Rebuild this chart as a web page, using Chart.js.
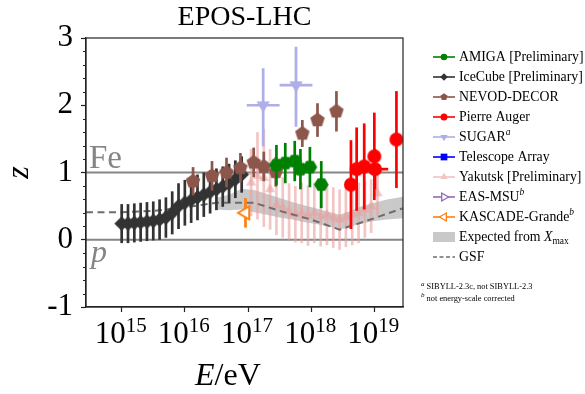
<!DOCTYPE html>
<html><head><meta charset="utf-8">
<script src="https://cdn.jsdelivr.net/npm/chart.js@4.4.0/dist/chart.umd.min.js"></script>
<style>html,body{margin:0;padding:0;background:#fff;}#wrap{width:585px;height:394px;}</style>
</head><body><div id="wrap"><canvas id="c" width="585" height="394" style="width:585px;height:394px"></canvas></div>
<script>
const FONT = "'Liberation Serif','DejaVu Serif','Times New Roman',serif";

// ---------- axes (x = log10(E/eV)) ----------
const xMin = 14.435, xMax = 19.454;
const yMin = -1, yMax = 3;
const xTickVals = [15, 16, 17, 18, 19];
const yTickVals = [-1, 0, 1, 2, 3];
const titleText = 'EPOS-LHC';

// ---------- data ----------
const amigaLogE = [17.45, 17.59, 17.74, 17.83, 17.98, 18.16];
const amigaZ    = [1.11, 1.14, 1.17, 1.05, 1.08, 0.82];
const amigaErr  = [0.30, 0.30, 0.30, 0.30, 0.30, 0.35];

const iceLogE = [15.0,15.1,15.2,15.3,15.4,15.5,15.6,15.7,15.8,15.9,16.0,16.1,16.2,16.3,16.4,16.5,16.6,16.7,16.8,16.9];
const iceZ    = [0.24,0.24,0.25,0.26,0.27,0.28,0.30,0.33,0.40,0.50,0.55,0.59,0.63,0.67,0.71,0.75,0.79,0.84,0.90,0.97];
const iceErr  = [0.29,0.29,0.29,0.29,0.29,0.29,0.30,0.30,0.32,0.34,0.34,0.34,0.34,0.33,0.32,0.31,0.30,0.29,0.28,0.27];

const nevodLogE = [16.13, 16.43, 16.66, 16.88, 17.09, 17.25, 17.44, 17.86, 18.10, 18.40];
const nevodZ    = [0.87, 0.95, 1.00, 1.07, 1.15, 1.09, 1.01, 1.58, 1.78, 1.91];
const nevodErr  = [0.21, 0.22, 0.22, 0.22, 0.22, 0.22, 0.22, 0.20, 0.25, 0.30];

const augerLogE  = [18.63, 18.72, 18.84, 19.00, 19.01, 19.35];
const augerZ     = [0.82, 1.05, 1.09, 1.24, 1.05, 1.49];
const augerErr   = [0.66, 0.62, 0.64, 0.65, 0.30, 0.72];
const augerXLo   = [0, 0, 0, 0, 0.11, 0];
const augerXHi   = [0, 0, 0, 0, 0.21, 0];

const sugarLogE = [17.24, 17.76];
const sugarZ    = [2.00, 2.30];
const sugarErrHi = [0.55, 0.57];
const sugarErrLo = [0.61, 0.62];
const sugarXErr  = [0.26, 0.26];

const taLogE = [];
const taZ    = [];

const yakLogE = [17.05,17.15,17.25,17.35,17.45,17.55,17.65,17.75,17.85,17.95,18.05,18.15,18.25,18.35,18.45,18.55,18.65,18.75,18.85,18.95,19.05];
const yakZ    = [0.85,0.95,0.92,0.75,0.52,0.48,0.42,0.38,0.40,0.36,0.40,0.35,0.37,0.33,0.30,0.34,0.37,0.40,0.45,0.50,0.69];
const yakErr  = [0.50,0.65,0.73,0.60,0.45,0.45,0.42,0.42,0.45,0.45,0.45,0.45,0.45,0.45,0.45,0.45,0.45,0.45,0.42,0.40,0.35];

const easLogE = [];
const easZ    = [];

const kgLogE = [16.96];
const kgZ    = [0.40];
const kgErr  = [0.22];

const xmaxLogE  = [16.48, 16.70, 16.90, 17.10, 17.30, 17.50, 17.70, 17.90, 18.10, 18.30, 18.45, 18.60, 18.80, 19.00, 19.20, 19.454];
const xmaxUpper = [0.62, 0.67, 0.76, 0.74, 0.68, 0.62, 0.56, 0.51, 0.46, 0.41, 0.37, 0.42, 0.50, 0.55, 0.60, 0.64];
const xmaxLower = [0.45, 0.44, 0.45, 0.41, 0.37, 0.33, 0.30, 0.26, 0.23, 0.19, 0.15, 0.19, 0.24, 0.28, 0.30, 0.32];

const gsfLogE = [14.435, 15.0, 15.5, 16.0, 16.5, 17.1, 17.5, 18.0, 18.45, 19.0, 19.454];
const gsfZ    = [0.41, 0.41, 0.43, 0.48, 0.55, 0.55, 0.43, 0.30, 0.15, 0.32, 0.47];

const seriesNames = ['AMIGA [Preliminary]', 'IceCube [Preliminary]', 'NEVOD-DECOR', 'Pierre Auger', 'SUGAR',
  'Telescope Array', 'Yakutsk [Preliminary]', 'EAS-MSU', 'KASCADE-Grande', 'Expected from X', 'GSF'];
const footnotes = ['SIBYLL-2.3c, not SIBYLL-2.3', 'not energy-scale corrected'];

// ---------- colours ----------
const C = {
  amiga: '#008000', ice: '#333333', nevod: '#8c564b', auger: '#ff0000', sugar: '#aeaee8',
  ta: '#0000ff', yak: 'rgba(235,160,160,0.6)', yakLeg: '#f2c4c4', eas: '#9467bd', kg: '#ff7f0e',
  band: '#c9c9c9', gsf: '#6e6e6e', ref: '#858585'
};

// ---------- marker factory ----------
function pathShape(g, shape, cx, cy, r) {
  g.beginPath();
  const poly = (n, rot) => {
    for (let i = 0; i < n; i++) {
      const a = rot + i * 2 * Math.PI / n;
      const px = cx + r * Math.cos(a), py = cy + r * Math.sin(a);
      if (i) g.lineTo(px, py); else g.moveTo(px, py);
    }
    g.closePath();
  };
  switch (shape) {
    case 'circle': g.arc(cx, cy, r, 0, 2 * Math.PI); break;
    case 'diamond': g.moveTo(cx, cy - r); g.lineTo(cx + r, cy); g.lineTo(cx, cy + r); g.lineTo(cx - r, cy); g.closePath(); break;
    case 'pentagon': poly(5, -Math.PI / 2); break;
    case 'hexagon': poly(6, 0); break;
    case 'triDown': poly(3, Math.PI / 2); break;
    case 'triUp': poly(3, -Math.PI / 2); break;
    case 'triLeft': poly(3, Math.PI); break;
    case 'triRight': poly(3, 0); break;
    case 'square': g.rect(cx - r * 0.8, cy - r * 0.8, 1.6 * r, 1.6 * r); break;
  }
}
function drawShape(g, shape, cx, cy, r, fill, stroke, lw) {
  pathShape(g, shape, cx, cy, r);
  if (fill) { g.fillStyle = fill; g.fill(); }
  if (stroke) { g.strokeStyle = stroke; g.lineWidth = lw; g.stroke(); }
}
function markerCanvas(shape, r, fill, stroke, lw) {
  const s = Math.ceil(2 * r + (lw || 0) + 4);
  const c = document.createElement('canvas'); c.width = s; c.height = s;
  drawShape(c.getContext('2d'), shape, s / 2, s / 2, r, fill, stroke, lw);
  return c;
}

function pts(xs, ys, o) {
  return xs.map((x, i) => ({
    x, y: ys[i],
    yLo: o && o.lo ? o.lo[i] : null, yHi: o && o.hi ? o.hi[i] : null,
    xLo: o && o.xlo ? o.xlo[i] : 0, xHi: o && o.xhi ? o.xhi[i] : 0
  }));
}

function markerSet(label, data, shape, r, fill, stroke, lw, errColor, order) {
  return {
    label, data, order,
    pointStyle: markerCanvas(shape, r, fill, stroke, lw),
    pointRadius: 5, pointHoverRadius: 5,
    showLine: false, errBars: true, errColor, errWidth: 2.7,
    backgroundColor: fill || stroke, borderColor: stroke || fill
  };
}

const datasets = [
  { label: 'xmaxUp', data: pts(xmaxLogE, xmaxUpper), showLine: true, pointRadius: 0, borderWidth: 0,
    borderColor: 'rgba(0,0,0,0)', backgroundColor: C.band, fill: '+1', order: 10, tension: 0 },
  { label: 'xmaxLo', data: pts(xmaxLogE, xmaxLower), showLine: true, pointRadius: 0, borderWidth: 0,
    borderColor: 'rgba(0,0,0,0)', fill: false, order: 11 },
  { label: 'Fe', data: pts([xMin, xMax], [1, 1]), showLine: true, pointRadius: 0, borderColor: C.ref, borderWidth: 2, order: 9 },
  { label: 'p', data: pts([xMin, xMax], [0, 0]), showLine: true, pointRadius: 0, borderColor: C.ref, borderWidth: 2, order: 9 },
  { label: 'GSF', data: pts(gsfLogE, gsfZ), showLine: true, pointRadius: 0, borderColor: C.gsf, borderWidth: 2,
    borderDash: [7, 4.5], order: 7 },
  markerSet('Yakutsk', pts(yakLogE, yakZ, { lo: yakErr, hi: yakErr }), 'triUp', 6, C.yak, null, 0, C.yak, 8),
  markerSet('IceCube', pts(iceLogE, iceZ, { lo: iceErr, hi: iceErr }), 'diamond', 7.3, C.ice, null, 0, C.ice, 6),
  markerSet('NEVOD-DECOR', pts(nevodLogE, nevodZ, { lo: nevodErr, hi: nevodErr }), 'pentagon', 7.6, C.nevod, null, 0, C.nevod, 5),
  markerSet('AMIGA', pts(amigaLogE, amigaZ, { lo: amigaErr, hi: amigaErr }), 'hexagon', 7.3, C.amiga, null, 0, C.amiga, 4),
  markerSet('SUGAR', pts(sugarLogE, sugarZ, { lo: sugarErrLo, hi: sugarErrHi, xlo: sugarXErr, xhi: sugarXErr }), 'triDown', 7.6, C.sugar, null, 0, C.sugar, 3),
  markerSet('Telescope Array', pts(taLogE, taZ), 'square', 5, C.ta, null, 0, C.ta, 3),
  markerSet('EAS-MSU', pts(easLogE, easZ), 'triRight', 6, '#fff', C.eas, 1.8, C.eas, 3),
  markerSet('Pierre Auger', pts(augerLogE, augerZ, { lo: augerErr, hi: augerErr, xlo: augerXLo, xhi: augerXHi }), 'circle', 7, C.auger, null, 0, C.auger, 2),
  markerSet('KASCADE-Grande', pts(kgLogE, kgZ, { lo: kgErr, hi: kgErr }), 'triLeft', 7.5, '#fff', C.kg, 2, C.kg, 1)
];

// ---------- plugins ----------
const errorBarPlugin = {
  id: 'errbars',
  beforeDatasetDraw(chart, args) {
    const ds = chart.data.datasets[args.index];
    if (!ds.errBars) return;
    const { ctx, chartArea: a, scales: { x, y } } = chart;
    ctx.save();
    ctx.beginPath(); ctx.rect(a.left, a.top, a.right - a.left, a.bottom - a.top); ctx.clip();
    ctx.strokeStyle = ds.errColor; ctx.lineWidth = ds.errWidth; ctx.lineCap = 'butt';
    ds.data.forEach(p => {
      const px = x.getPixelForValue(p.x), py = y.getPixelForValue(p.y);
      if (p.yLo != null) {
        ctx.beginPath();
        ctx.moveTo(px, y.getPixelForValue(p.y - p.yLo));
        ctx.lineTo(px, y.getPixelForValue(p.y + p.yHi));
        ctx.stroke();
      }
      if (p.xLo || p.xHi) {
        ctx.beginPath();
        ctx.moveTo(x.getPixelForValue(p.x - p.xLo), py);
        ctx.lineTo(x.getPixelForValue(p.x + p.xHi), py);
        ctx.stroke();
      }
    });
    ctx.restore();
  }
};

function textWithScript(ctx, parts, x, y, measureOnly) {
  let cx = x;
  parts.forEach(p => {
    ctx.font = (p.style || '') + ' ' + p.size + 'px ' + FONT;
    if (!measureOnly) ctx.fillText(p.t, cx, y + (p.dy || 0));
    cx += ctx.measureText(p.t).width;
  });
  return cx - x;
}

const decorPlugin = {
  id: 'decor',
  afterDraw(chart) {
    const { ctx, chartArea: a, scales: { x, y } } = chart;
    ctx.save();
    // frame
    ctx.strokeStyle = '#222'; ctx.lineWidth = 1.2;
    ctx.strokeRect(a.left, a.top, a.right - a.left, a.bottom - a.top);
    // minor y ticks
    ctx.lineWidth = 1;
    for (let v = yMin; v <= yMax + 1e-9; v += 0.2) {
      if (Math.abs(v - Math.round(v)) < 1e-6) continue;
      const py = Math.round(y.getPixelForValue(v)) + 0.5;
      ctx.beginPath(); ctx.moveTo(a.left - 3, py); ctx.lineTo(a.left, py); ctx.stroke();
    }
    // x tick labels 10^n
    ctx.fillStyle = '#000'; ctx.textBaseline = 'alphabetic'; ctx.textAlign = 'left';
    x.ticks.forEach(t => {
      const parts = [{ t: '10', size: 31 }, { t: String(t.value), size: 21, dy: -11 }];
      const w = textWithScript(ctx, parts, 0, 0, true);
      textWithScript(ctx, parts, x.getPixelForValue(t.value) - w / 2 - 1, 343);
    });
    // Fe / p labels
    ctx.fillStyle = '#858585';
    ctx.font = '33px ' + FONT;
    ctx.fillText('Fe', a.left + 3, y.getPixelForValue(1) - 5);
    ctx.font = 'italic 32px ' + FONT;
    ctx.fillText('p', a.left + 5, y.getPixelForValue(0) + 22);
    // x axis title
    ctx.fillStyle = '#000';
    textWithScript(ctx, [{ t: 'E', size: 32, style: 'italic' }, { t: '/eV', size: 32 }], 195, 385);

    // legend
    const lx0 = 433, lx1 = 455, lm = 444, tx = 459;
    const rowY = i => 57 + i * 20;
    const specs = [
      { c: C.amiga, shape: 'circle', r: 3.3 },
      { c: C.ice, shape: 'diamond', r: 3.8 },
      { c: C.nevod, shape: 'pentagon', r: 3.8 },
      { c: C.auger, shape: 'circle', r: 3.5 },
      { c: C.sugar, shape: 'triDown', r: 4.2, sup: 'a' },
      { c: C.ta, shape: 'square', r: 4.2 },
      { c: C.yakLeg, shape: 'triUp', r: 4.2 },
      { c: C.eas, shape: 'triRight', r: 4.6, open: true, sup: 'b' },
      { c: C.kg, shape: 'triLeft', r: 4.6, open: true, sup: 'b' },
      { band: true, sub: 'max' },
      { dash: true }
    ];
    specs.forEach((s, i) => {
      const yy = rowY(i);
      if (s.band) {
        ctx.fillStyle = C.band; ctx.fillRect(lx0, yy - 5, lx1 - lx0, 10);
      } else if (s.dash) {
        ctx.strokeStyle = C.gsf; ctx.lineWidth = 1.5; ctx.setLineDash([4, 2.5]);
        ctx.beginPath(); ctx.moveTo(lx0, yy); ctx.lineTo(lx1, yy); ctx.stroke(); ctx.setLineDash([]);
      } else {
        ctx.strokeStyle = s.c; ctx.lineWidth = 1.6;
        ctx.beginPath(); ctx.moveTo(lx0, yy); ctx.lineTo(lx1, yy); ctx.stroke();
        if (s.open) drawShape(ctx, s.shape, lm, yy, s.r, '#fff', s.c, 1.3);
        else drawShape(ctx, s.shape, lm, yy, s.r, s.c, null, 0);
      }
      ctx.fillStyle = '#000'; ctx.textBaseline = 'middle';
      const name = seriesNames[i];
      if (s.sub) {
        textWithScript(ctx, [{ t: 'Expected from ', size: 13.8 }, { t: 'X', size: 13.8, style: 'italic' },
          { t: s.sub, size: 9.5, dy: 4 }], tx, yy + 0.5);
      } else if (s.sup) {
        textWithScript(ctx, [{ t: name, size: 13.8 }, { t: s.sup, size: 9.5, style: 'italic', dy: -5 }], tx, yy + 0.5);
      } else {
        textWithScript(ctx, [{ t: name, size: 13.8 }], tx, yy + 0.5);
      }
    });
    // footnotes
    ctx.fillStyle = '#000';
    textWithScript(ctx, [{ t: 'a', size: 7, style: 'italic', dy: -3 }, { t: ' ' + footnotes[0], size: 8.4 }], 421, 287);
    textWithScript(ctx, [{ t: 'b', size: 7, style: 'italic', dy: -3 }, { t: ' ' + footnotes[1], size: 8.4 }], 421, 298.5);
    ctx.restore();
  }
};

new Chart(document.getElementById('c'), {
  type: 'scatter',
  data: { datasets },
  plugins: [errorBarPlugin, decorPlugin],
  options: {
    responsive: false, animation: false, devicePixelRatio: 1,
    layout: { padding: { left: 0, right: 182, top: 0, bottom: 0 } },
    plugins: {
      legend: { display: false }, tooltip: { enabled: false },
      title: { display: true, text: titleText, fullSize: false, color: '#000',
        font: { family: FONT, size: 28, weight: 'normal' }, padding: { top: 1, bottom: 3.4 } }
    },
    scales: {
      x: {
        type: 'linear', min: xMin, max: xMax,
        afterBuildTicks: s => { s.ticks = xTickVals.map(v => ({ value: v })); },
        afterFit: s => { s.height = 87; },
        ticks: { display: false, autoSkip: false },
        grid: { drawOnChartArea: false, tickLength: 5, tickColor: '#222', tickWidth: 1.2 },
        border: { color: '#222', width: 1.2 }
      },
      y: {
        type: 'linear', min: yMin, max: yMax,
        afterBuildTicks: s => { s.ticks = yTickVals.map(v => ({ value: v })); },
        afterFit: s => { s.width = 86; },
        ticks: { callback: v => String(v), font: { family: FONT, size: 31 }, color: '#000', padding: 8 },
        grid: { drawOnChartArea: false, tickLength: 5, tickColor: '#222', tickWidth: 1.2 },
        border: { color: '#222', width: 1.2 },
        title: { display: true, text: 'z', color: '#000', font: { family: FONT, size: 32, style: 'italic' }, padding: 0 }
      }
    }
  }
});
</script></body></html>
